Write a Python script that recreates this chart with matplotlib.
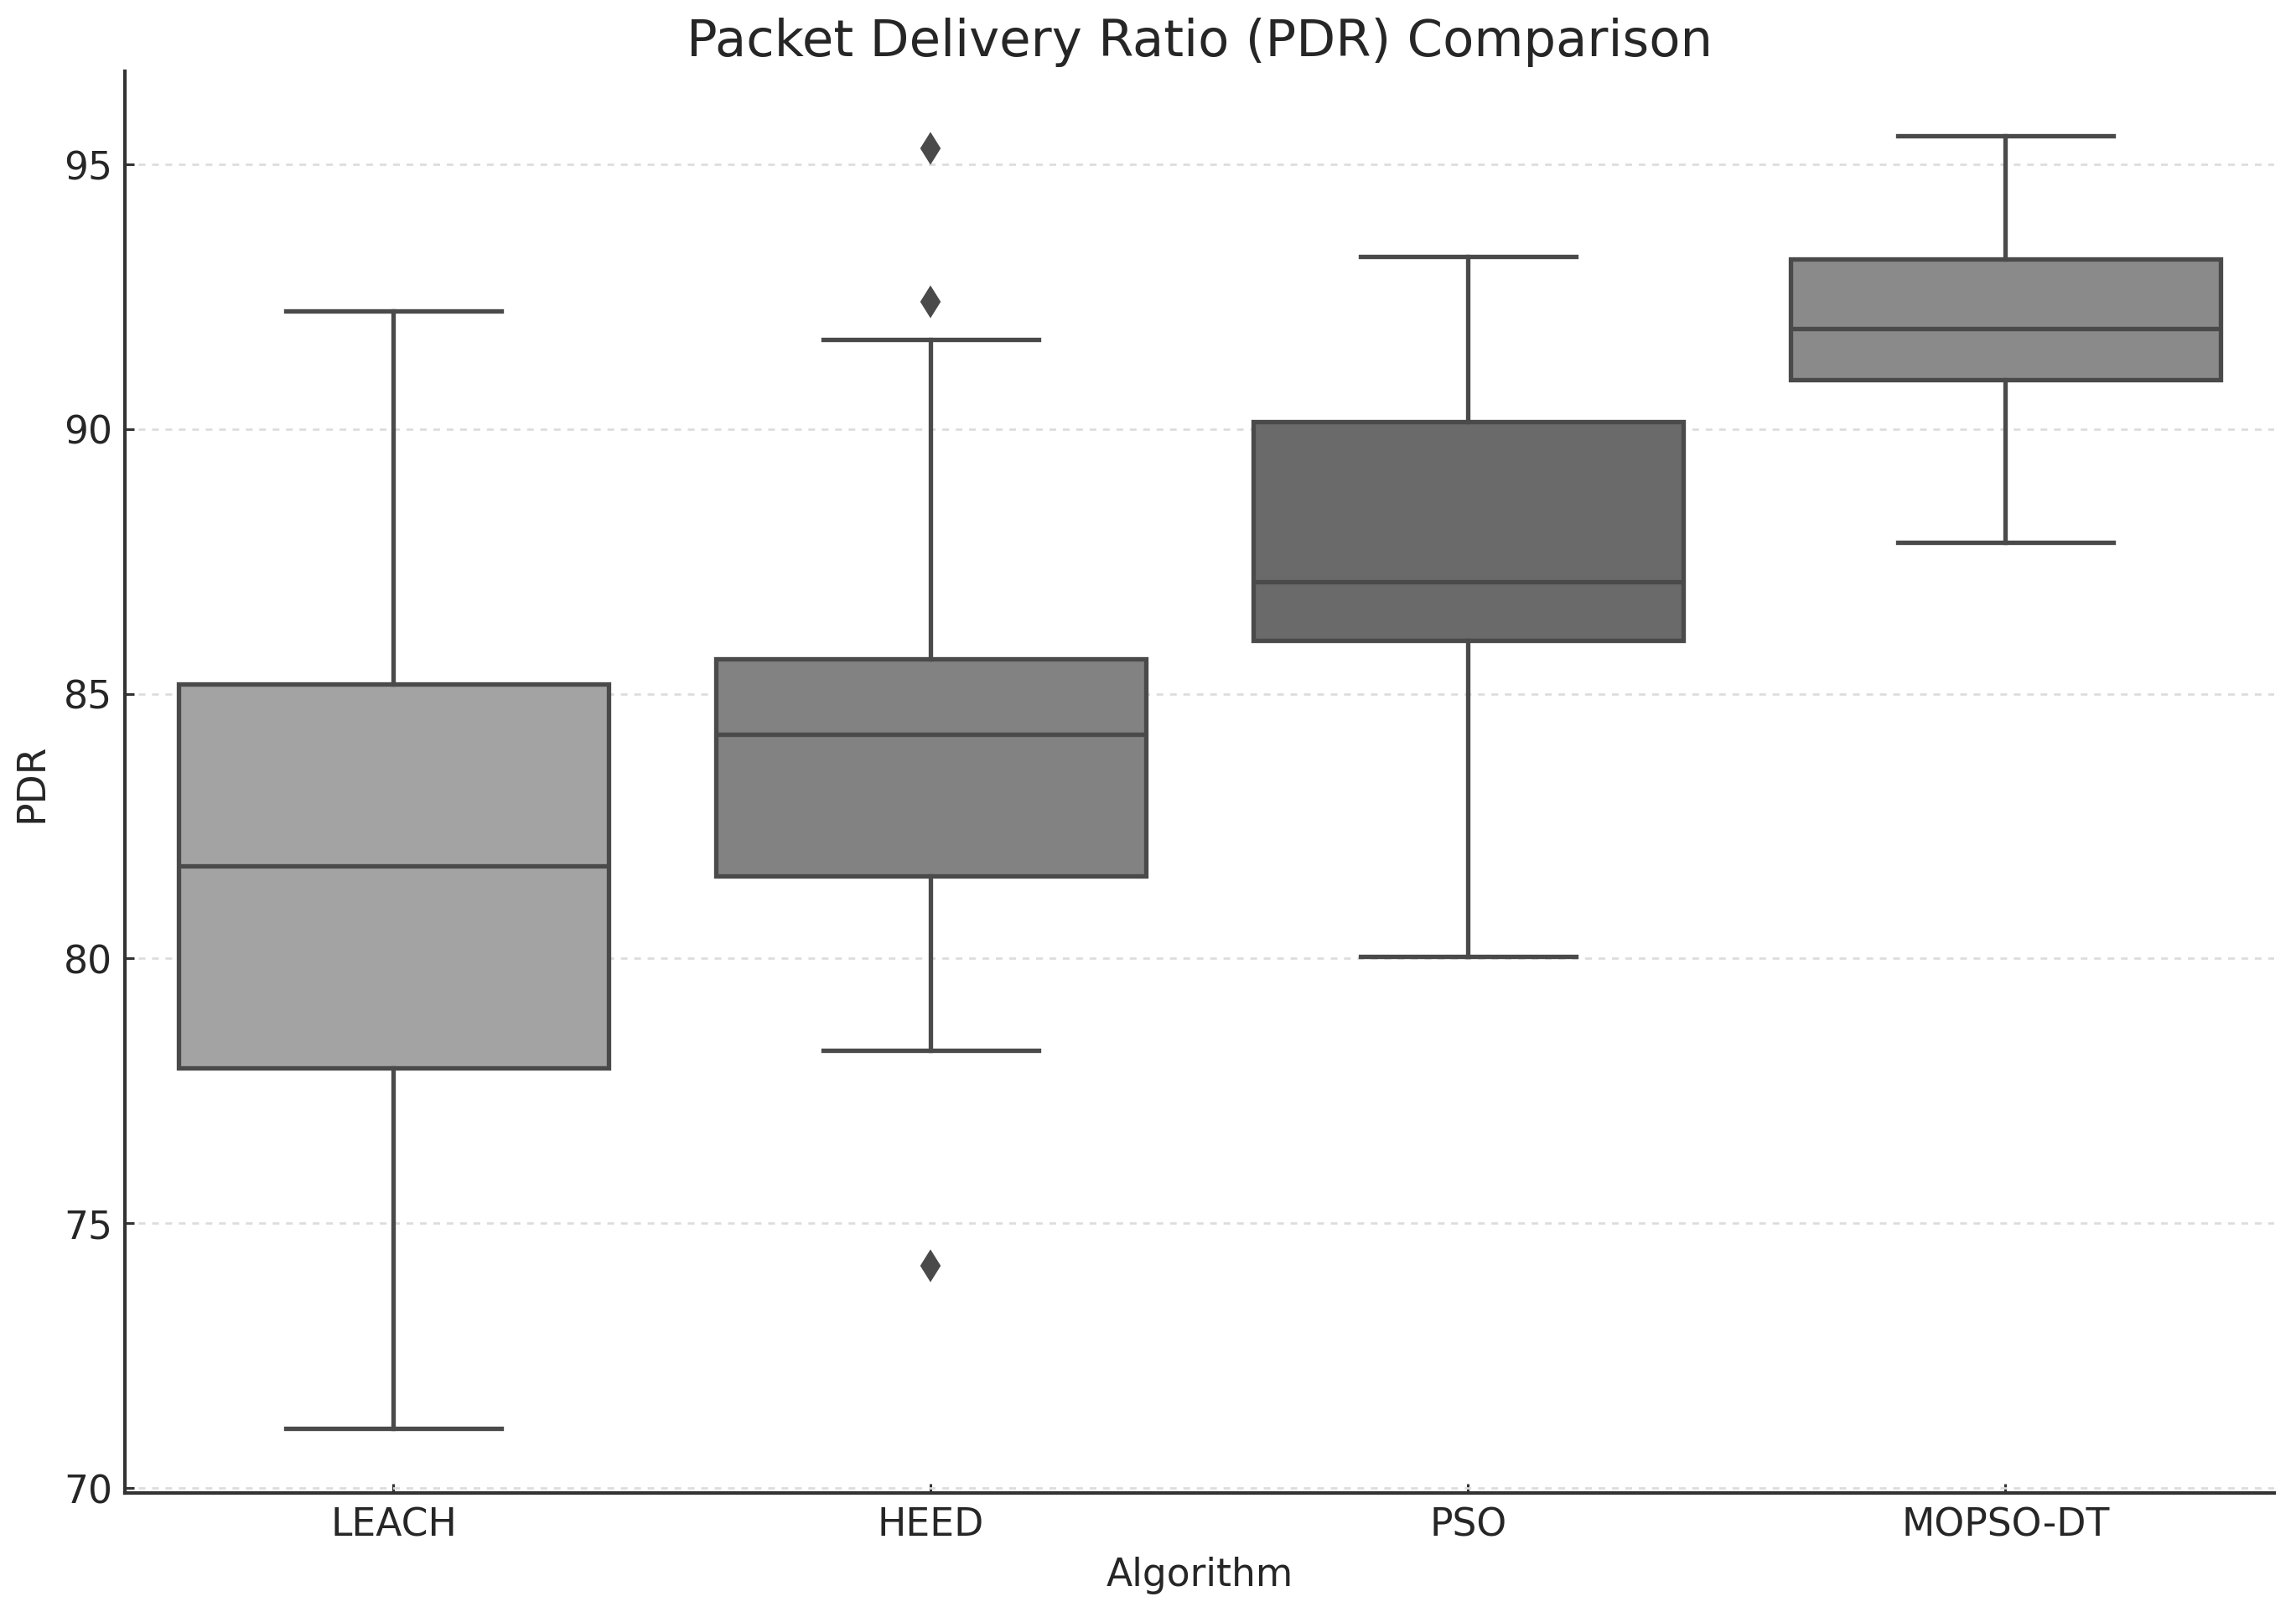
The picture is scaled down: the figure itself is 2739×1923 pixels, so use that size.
import matplotlib
matplotlib.use("Agg")
import matplotlib.pyplot as plt

categories = ["LEACH", "HEED", "PSO", "MOPSO-DT"]
whisker_low = [71.13, 78.27, 80.04, 87.86]
q1 = [77.94, 81.56, 86.01, 90.93]
median = [81.75, 84.24, 87.12, 91.90]
q3 = [85.18, 85.65, 90.13, 93.20]
whisker_high = [92.23, 91.68, 93.26, 95.53]
outliers = [[], [95.30, 92.40, 74.20], [], []]
box_colors = ["#a3a3a3", "#828282", "#6a6a6a", "#8a8a8a"]

line_color = "#4a4a4a"
plt.rcParams["font.family"] = ["DejaVu Sans"]

fig = plt.figure(figsize=(10, 7.024), dpi=273.9)
ax = fig.add_axes([0.0544, 0.0738, 0.9361, 0.8815])

stats = []
for i, c in enumerate(categories):
    stats.append(dict(label=c, whislo=whisker_low[i], q1=q1[i], med=median[i],
                      q3=q3[i], whishi=whisker_high[i], fliers=outliers[i]))

lw = 1.4
bp = ax.bxp(stats, positions=range(len(categories)), widths=0.8, patch_artist=True,
            showfliers=True,
            boxprops=dict(edgecolor=line_color, linewidth=lw),
            medianprops=dict(color=line_color, linewidth=lw),
            whiskerprops=dict(color=line_color, linewidth=lw),
            capprops=dict(color=line_color, linewidth=lw),
            flierprops=dict(marker="d", markerfacecolor=line_color, markeredgecolor=line_color,
                            markersize=6))
for patch, col in zip(bp["boxes"], box_colors):
    patch.set_facecolor(col)
for cap in bp["caps"]:
    x = cap.get_xdata()
    m = (x[0] + x[1]) / 2
    cap.set_xdata([m - 0.2, m + 0.2])

ax.set_xlim(-0.5, len(categories) - 0.5)
ax.yaxis.grid(True, linestyle=(0, (3, 3)), color="#dcdcdc", linewidth=0.7)
ax.set_axisbelow(True)
for s in ["top", "right"]:
    ax.spines[s].set_visible(False)
for s in ["left", "bottom"]:
    ax.spines[s].set_color("#333333")
    ax.spines[s].set_linewidth(1.1)
ax.tick_params(axis="both", labelsize=12, colors="#333333", length=3, direction="in", pad=4)
ax.tick_params(axis="both", labelcolor="#262626")
ax.set_yticks([70, 75, 80, 85, 90, 95])
ax.set_xlabel("Algorithm", fontsize=12, color="#262626", labelpad=4)
ax.set_ylabel("PDR", fontsize=12, color="#262626")
ax.set_title("Packet Delivery Ratio (PDR) Comparison", fontsize=16, color="#262626", pad=5)

fig.savefig("out.png", dpi=273.9)
